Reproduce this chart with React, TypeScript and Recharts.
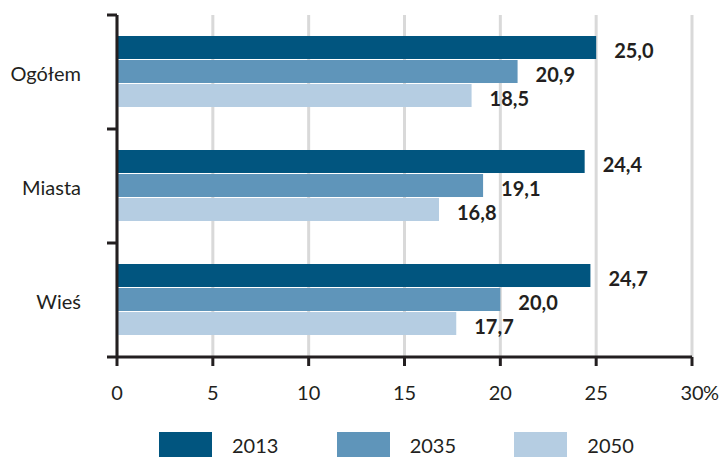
import { BarChart, Bar, XAxis, YAxis, CartesianGrid, Legend, LabelList } from 'recharts';

const categories = ['Ogółem', 'Miasta', 'Wieś'];
const years = ['2013', '2035', '2050'];
const values2013 = [25.0, 24.4, 24.7];
const values2035 = [20.9, 19.1, 20.0];
const values2050 = [18.5, 16.8, 17.7];
const xTicks = [0, 5, 10, 15, 20, 25, 30];

const colors = ['#01557f', '#5f95ba', '#b5cde2'];
const ink = '#231f20';
const font = 'Lato, "Open Sans", sans-serif';

const W = 723;
const H = 457;
const TOP = 15;
const X_AXIS_H = 66;
const LEGEND_H = 34;

const data = categories.map((name, i) => ({
    name,
    y2013: values2013[i],
    y2035: values2035[i],
    y2050: values2050[i],
}));

const fmt = (v: number) => v.toFixed(1).replace('.', ',');

// category ticks sit on the band edges, not the centres
const YTick = (props: any) => {
    const { x, y, payload, index } = props;
    const axisX = x + 36;
    const band = (H - TOP - X_AXIS_H - LEGEND_H) / categories.length;
    const half = payload.offset || band / 2;
    return (
        <g>
            <line x1={axisX - 10} x2={axisX} y1={y - half} y2={y - half} stroke={ink} strokeWidth={3} />
            {index === categories.length - 1 && (
                <line x1={axisX - 10} x2={axisX} y1={y + half} y2={y + half} stroke={ink} strokeWidth={3} />
            )}
            <text x={x} y={y + 1} textAnchor="end" dominantBaseline="central" fill={ink} fontSize={20} fontFamily={font}>
                {payload.value}
            </text>
        </g>
    );
};

const XTick = (props: any) => {
    const { x, y, payload } = props;
    const last = payload.value === xTicks[xTicks.length - 1];
    return (
        <g>
            <text x={x} y={y} dy="0.71em" textAnchor="middle" fill={ink} fontSize={20} fontFamily={font}>
                {payload.value}
            </text>
            {last && (
                <text x={x + 11} y={y} dy="0.71em" textAnchor="start" fill={ink} fontSize={20} fontFamily={font}>
                    %
                </text>
            )}
        </g>
    );
};

const LegendBox = () => (
    <div style={{ height: LEGEND_H, paddingTop: 9, paddingLeft: 159, boxSizing: 'border-box', display: 'flex' }}>
        {years.map((y, i) => (
            <div key={y} style={{ width: 181, display: 'flex', alignItems: 'center', height: 25 }}>
                <div style={{ width: 53, height: 25, background: colors[i] }} />
                <span style={{ marginLeft: 20, fontSize: 20, lineHeight: '22px', fontFamily: font, color: ink }}>{y}</span>
            </div>
        ))}
    </div>
);

export default function App() {
    return (
        <div style={{ position: 'absolute', left: 0, top: 0, width: W, height: H, background: '#fff' }}>
            <BarChart
                width={W}
                height={H}
                data={data}
                layout="vertical"
                margin={{ top: TOP, right: 31, left: 0, bottom: 0 }}
                barCategoryGap={21}
                barGap={1}
            >
                <CartesianGrid horizontal={false} stroke="#d9d9d9" strokeWidth={3} />
                <XAxis
                    type="number"
                    domain={[0, 30]}
                    ticks={xTicks}
                    height={X_AXIS_H}
                    tick={<XTick />}
                    tickSize={9}
                    tickMargin={20}
                    tickLine={{ stroke: ink, strokeWidth: 3 }}
                    axisLine={{ stroke: ink, strokeWidth: 3 }}
                />
                <YAxis
                    type="category"
                    dataKey="name"
                    width={117}
                    tick={<YTick />}
                    tickLine={false}
                    tickSize={10}
                    tickMargin={26}
                    axisLine={{ stroke: ink, strokeWidth: 3 }}
                />
                <Legend verticalAlign="bottom" content={<LegendBox />} />
                <Bar dataKey="y2013" name="2013" fill={colors[0]} isAnimationActive={false}>
                    <LabelList dataKey="y2013" position="right" offset={18} dy={3} formatter={fmt} fill={ink} fontSize={20} fontWeight={700} fontFamily={font} />
                </Bar>
                <Bar dataKey="y2035" name="2035" fill={colors[1]} isAnimationActive={false}>
                    <LabelList dataKey="y2035" position="right" offset={18} dy={3} formatter={fmt} fill={ink} fontSize={20} fontWeight={700} fontFamily={font} />
                </Bar>
                <Bar dataKey="y2050" name="2050" fill={colors[2]} isAnimationActive={false}>
                    <LabelList dataKey="y2050" position="right" offset={18} dy={3} formatter={fmt} fill={ink} fontSize={20} fontWeight={700} fontFamily={font} />
                </Bar>
            </BarChart>
        </div>
    );
}
